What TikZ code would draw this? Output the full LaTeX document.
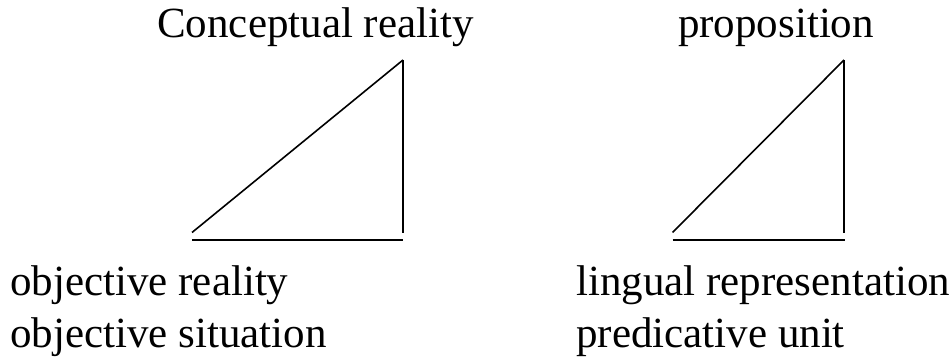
\documentclass[tikz,border=0pt]{standalone}
\usepackage{fontspec}
\setmainfont{Liberation Serif}
\begin{document}
\begin{tikzpicture}[x=1pt,y=-1pt,
  lbl/.style={inner sep=0pt,font=\fontsize{43}{52}\selectfont},
  edge/.style={line width=1.6pt},
  base/.style={line width=2.2pt}]
\useasboundingbox (0,0) rectangle (949,356);
% labels
\node[lbl,anchor=base] (cr) at (315.5,37) {Conceptual reality};
\node[lbl,anchor=base] (pr) at (776,37) {proposition};
\node[lbl,anchor=base west] (or) at (10,295) {objective reality};
\node[lbl,anchor=base west] (os) at (10,347) {objective situation};
\node[lbl,anchor=base west] (lr) at (576,295) {lingual representation};
\node[lbl,anchor=base west] (pu) at (576,347) {predicative unit};
% left triangle
\coordinate (a1) at (192,232.5);
\coordinate (b1) at (403,60);
\coordinate (c1) at (403,232.5);
\coordinate (d1) at (192,240.3);
\coordinate (e1) at (403,240.3);
\draw[edge] (a1) -- (b1);
\draw[edge] (b1) -- (c1);
\draw[base] (d1) -- (e1);
% right triangle
\coordinate (a2) at (672.5,232.5);
\coordinate (b2) at (844,60);
\coordinate (c2) at (844,232.5);
\coordinate (d2) at (672.5,240.3);
\coordinate (e2) at (844.5,240.3);
\draw[edge] (a2) -- (b2);
\draw[edge] (b2) -- (c2);
\draw[base] (d2) -- (e2);
\end{tikzpicture}
\end{document}
